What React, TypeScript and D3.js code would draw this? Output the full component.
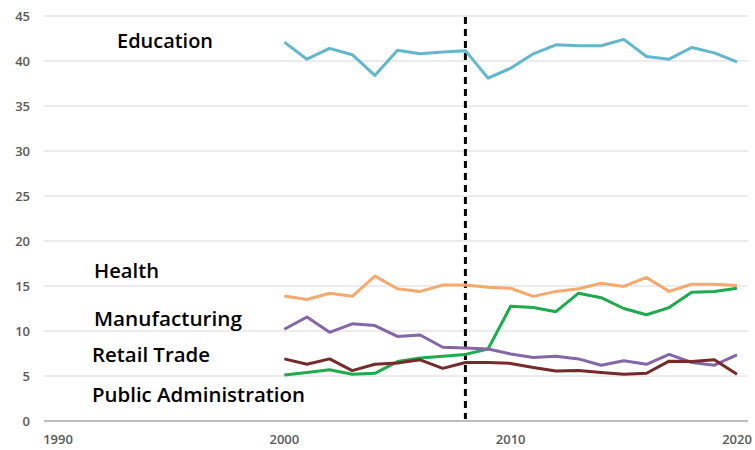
import React from "react";
import * as d3 from "d3";

const years = d3.range(2000, 2021);
const education = [42.1, 40.2, 41.4, 40.7, 38.4, 41.2, 40.8, 41.0, 41.15, 38.1, 39.2, 40.8, 41.8, 41.7, 41.7, 42.4, 40.5, 40.2, 41.5, 40.9, 39.9];
const health = [13.9, 13.5, 14.2, 13.85, 16.1, 14.7, 14.4, 15.1, 15.1, 14.85, 14.75, 13.85, 14.4, 14.7, 15.3, 14.95, 15.95, 14.4, 15.2, 15.2, 15.05];
const manufacturing = [5.1, 5.4, 5.7, 5.2, 5.3, 6.6, 7.0, 7.2, 7.4, 8.0, 12.75, 12.6, 12.15, 14.2, 13.7, 12.5, 11.8, 12.6, 14.3, 14.4, 14.75];
const retailTrade = [10.2, 11.55, 9.85, 10.8, 10.6, 9.4, 9.55, 8.2, 8.1, 8.0, 7.45, 7.05, 7.2, 6.9, 6.2, 6.7, 6.3, 7.4, 6.5, 6.2, 7.35];
const publicAdmin = [6.9, 6.3, 6.9, 5.6, 6.3, 6.45, 6.8, 5.85, 6.5, 6.5, 6.4, 5.95, 5.55, 5.6, 5.4, 5.2, 5.3, 6.65, 6.6, 6.8, 5.2];

const yTicks = [0, 5, 10, 15, 20, 25, 30, 35, 40, 45];
const xTicks = [1990, 2000, 2010, 2020];
const markerYear = 2008;

const series = [
  { name: "Education", values: education, color: "#62b7cf" },
  { name: "Health", values: health, color: "#f6a96c" },
  { name: "Manufacturing", values: manufacturing, color: "#1eab4e" },
  { name: "Retail Trade", values: retailTrade, color: "#8566a9" },
  { name: "Public Administration", values: publicAdmin, color: "#762a2a" },
];

const labels = [
  { text: "Education", x: 117, y: 48, w: 96 },
  { text: "Health", x: 94, y: 278, w: 65 },
  { text: "Manufacturing", x: 94, y: 326, w: 148 },
  { text: "Retail Trade", x: 92, y: 362, w: 118 },
  { text: "Public Administration", x: 92, y: 402, w: 213 },
];

export default function App() {
  const W = 755, H = 450;
  const x = d3.scaleLinear().domain([1990, 2020]).range([58, 737]);
  const y = d3.scaleLinear().domain([0, 45]).range([421, 16]);
  const line = d3
    .line<number>()
    .x((_, i) => x(years[i]))
    .y((d) => y(d));
  const gridL = 44, gridR = 748;
  return (
    <svg width={W} height={H} style={{ position: "absolute", left: 0, top: 0, background: "#fff" }}>
      {yTicks.map((t) => (
        <g key={t}>
          <line x1={gridL} x2={gridR} y1={y(t)} y2={y(t)} stroke={t === 0 ? "#a6a6a6" : "#d9d9d9"} strokeWidth={t === 0 ? 1.5 : 1.2} />
          <text x={30} y={y(t) + 5} textAnchor="end" fontFamily="Open Sans" fontWeight={600} fontSize={13} fill="#595959">
            {t}
          </text>
        </g>
      ))}
      {xTicks.map((t) => (
        <text key={t} x={x(t)} y={444} textAnchor="middle" fontFamily="Open Sans" fontWeight={600} fontSize={13} fill="#595959">
          {t}
        </text>
      ))}
      <line x1={x(markerYear)} x2={x(markerYear)} y1={17} y2={419} stroke="#000" strokeWidth={3} strokeDasharray="7,5" />
      {series.map((s) => (
        <path key={s.name} d={line(s.values) || ""} fill="none" stroke={s.color} strokeWidth={3} strokeLinejoin="round" />
      ))}
      {labels.map((l) => (
        <text key={l.text} x={l.x} y={l.y} fontFamily="Open Sans" fontWeight={600} fontSize={19} fill="#000" textLength={l.w} lengthAdjust="spacingAndGlyphs">
          {l.text}
        </text>
      ))}
    </svg>
  );
}
